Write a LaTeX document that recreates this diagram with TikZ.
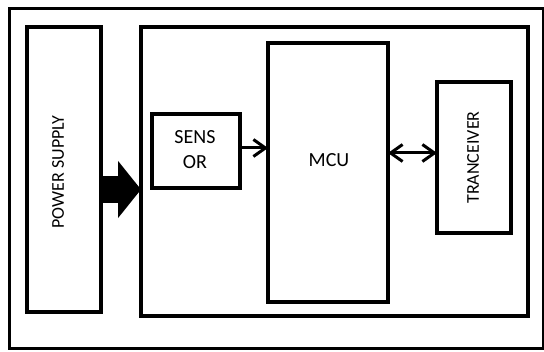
\documentclass[tikz,border=0pt]{standalone}
\usepackage{fontspec}
\setmainfont{Carlito}
\usetikzlibrary{arrows.meta}
\begin{document}
\begin{tikzpicture}[x=1pt,y=-1pt,
  block/.style={draw, line width=3.5pt, inner sep=0pt, outer sep=0pt},
  lbl/.style={font=\fontsize{20}{25}\selectfont, inner sep=0pt, align=center},
  vlbl/.style={font=\fontsize{18}{22}\selectfont, inner sep=0pt, rotate=90},
  link/.style={line width=3pt},
  barb/.tip={Straight Barb[length=12pt,width=17pt]}]
\useasboundingbox (0,0) rectangle (544,352);
% outer frame
\draw[line width=3pt] (9,9) rectangle (543.5,348.5);
% blocks
\node[block, minimum width=74pt, minimum height=285pt] (power) at (64,169.5) {};
\node[block, minimum width=387pt, minimum height=289pt] (board) at (334.5,171.5) {};
\node[block, minimum width=88pt, minimum height=74pt] (sensor) at (196,151) {};
\node[block, minimum width=120pt, minimum height=259pt] (mcu) at (328,172.5) {};
\node[block, minimum width=74pt, minimum height=151pt] (trans) at (474,157.5) {};
% labels
\node[vlbl] (powerlbl) at (58,172) {POWER SUPPLY};
\node[lbl] (sensorlbl) at (195,149.5) {SENS\\OR};
\node[lbl] (mculbl) at (329,160) {MCU};
\node[vlbl] (translbl) at (473,157.5) {TRANCEIVER};
% power feed
\coordinate (feed) at (0,189.5);
\draw[line width=27pt, -{Triangle[length=23pt,width=56pt]}] (power.east |- feed) -- (board.west |- feed);
% signal links
\coordinate (sig) at (0,148);
\coordinate (bus) at (0,153);
\draw[link, -barb] (sensor.east |- sig) -- (mcu.west |- sig);
\draw[link, barb-barb] (mcu.east |- bus) -- (trans.west |- bus);
\end{tikzpicture}
\end{document}
